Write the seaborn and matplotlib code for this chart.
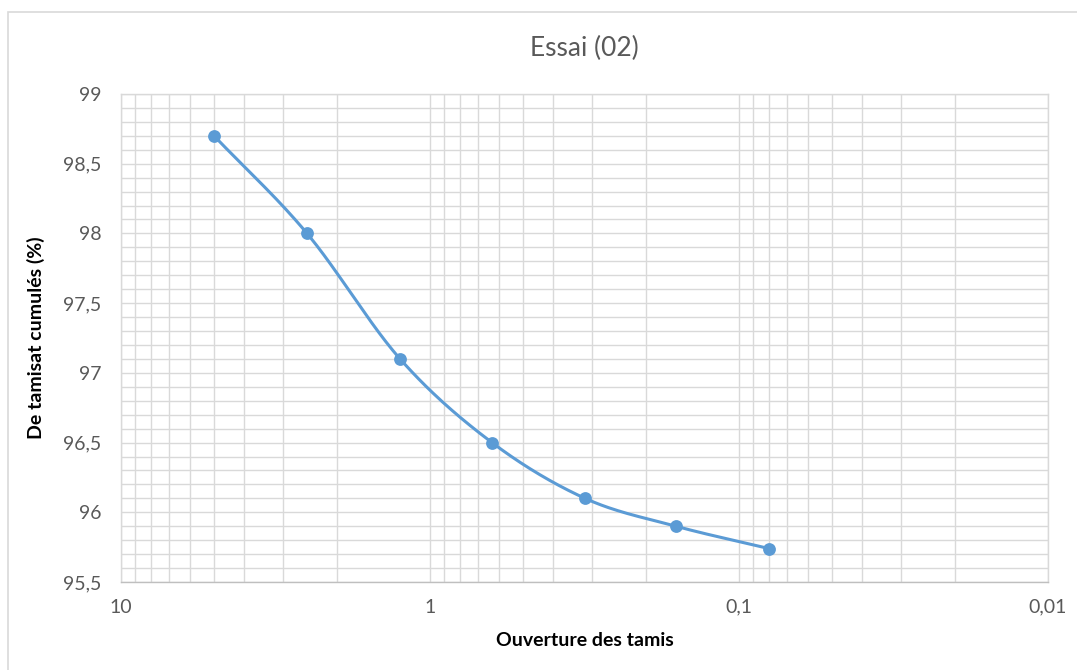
import numpy as np
import pandas as pd
import matplotlib
matplotlib.use("Agg")
import matplotlib.pyplot as plt
import seaborn as sns
from matplotlib.ticker import FixedLocator, NullFormatter, FuncFormatter
from matplotlib.patches import Rectangle

# Sieve openings (mm) and cumulative passing (%)
ouverture = [5, 2.5, 1.25, 0.63, 0.315, 0.16, 0.08]
tamisat = [98.7, 98.0, 97.1, 96.5, 96.1, 95.9, 95.74]

x_ticks = [10, 1, 0.1, 0.01]
x_tick_labels = ["10", "1", "0,1", "0,01"]
y_ticks = [95.5, 96, 96.5, 97, 97.5, 98, 98.5, 99]

df = pd.DataFrame({"ouverture": ouverture, "tamisat": tamisat})

sns.set_theme(style="white")
plt.rcParams["font.family"] = ["Lato", "DejaVu Sans"]

line_color = "#5B9BD5"
grid_color = "#D9D9D9"
text_gray = "#595959"

fig = plt.figure(figsize=(10.77, 6.70), dpi=100)
ax = fig.add_axes([121 / 1077, 1 - 582 / 670, (1048 - 121) / 1077, (582 - 94) / 670])

# Outer chart border
fig.patches.append(Rectangle((8 / 1077, -0.1), 1.2, 1 - 12 / 670 + 0.1,
                             transform=fig.transFigure, fill=False,
                             edgecolor="#D9D9D9", linewidth=1.2, zorder=0))

ax.set_xscale("log")
ax.set_xlim(10, 0.01)
ax.set_ylim(95.5, 99)


def smooth_curve(xs, ys, n=40):
    """Catmull-Rom curve through the points, in log-x space."""
    px = np.log10(np.asarray(xs, dtype=float))
    py = np.asarray(ys, dtype=float)
    P = np.column_stack([px, py])
    P = np.vstack([P[0] * 2 - P[1], P, P[-1] * 2 - P[-2]])
    out = []
    for i in range(1, len(P) - 2):
        p0, p1, p2, p3 = P[i - 1], P[i], P[i + 1], P[i + 2]
        t = np.linspace(0, 1, n)[:, None]
        seg = 0.5 * ((2 * p1) + (-p0 + p2) * t + (2 * p0 - 5 * p1 + 4 * p2 - p3) * t ** 2
                     + (-p0 + 3 * p1 - 3 * p2 + p3) * t ** 3)
        out.append(seg)
    c = np.vstack(out)
    return 10 ** c[:, 0], c[:, 1]


sx, sy = smooth_curve(ouverture, tamisat)
ax.plot(sx, sy, color=line_color, linewidth=2.2, zorder=3, solid_capstyle="round")
sns.scatterplot(data=df, x="ouverture", y="tamisat", ax=ax, color=line_color,
                s=85, edgecolor=line_color, linewidth=0, zorder=4, legend=False)

# Grid: major and minor on log x, 0.1 steps on y
minor_x = [m * 10.0 ** e for e in (-2, -1, 0) for m in range(2, 10)]
ax.xaxis.set_major_locator(FixedLocator(x_ticks))
ax.xaxis.set_minor_locator(FixedLocator(minor_x))
ax.xaxis.set_major_formatter(FuncFormatter(lambda v, p: dict(zip(x_ticks, x_tick_labels)).get(v, "")))
ax.xaxis.set_minor_formatter(NullFormatter())
ax.yaxis.set_major_locator(FixedLocator(y_ticks))
ax.yaxis.set_minor_locator(FixedLocator(np.round(np.arange(95.5, 99.001, 0.1), 2)))
ax.yaxis.set_major_formatter(FuncFormatter(lambda v, p: f"{v:g}".replace(".", ",")))

ax.grid(which="both", axis="both", color=grid_color, linewidth=1.0)
ax.set_axisbelow(True)
for s in ax.spines.values():
    s.set_color(grid_color)
    s.set_linewidth(1.0)
ax.spines["bottom"].set_color("#BFBFBF")

ax.tick_params(axis="both", which="both", length=0, colors=text_gray, labelsize=14)
ax.tick_params(axis="x", pad=12)
ax.tick_params(axis="y", pad=14)

ax.set_xlabel("Ouverture des tamis", fontsize=14, fontweight="bold", color="black", labelpad=12)
ax.set_ylabel("De tamisat cumulés (%)", fontsize=14, fontweight="bold", color="black", labelpad=13)
ax.set_title("Essai (02)", fontsize=19, color=text_gray, pad=27)

fig.savefig("out.png", dpi=100, facecolor="white")
